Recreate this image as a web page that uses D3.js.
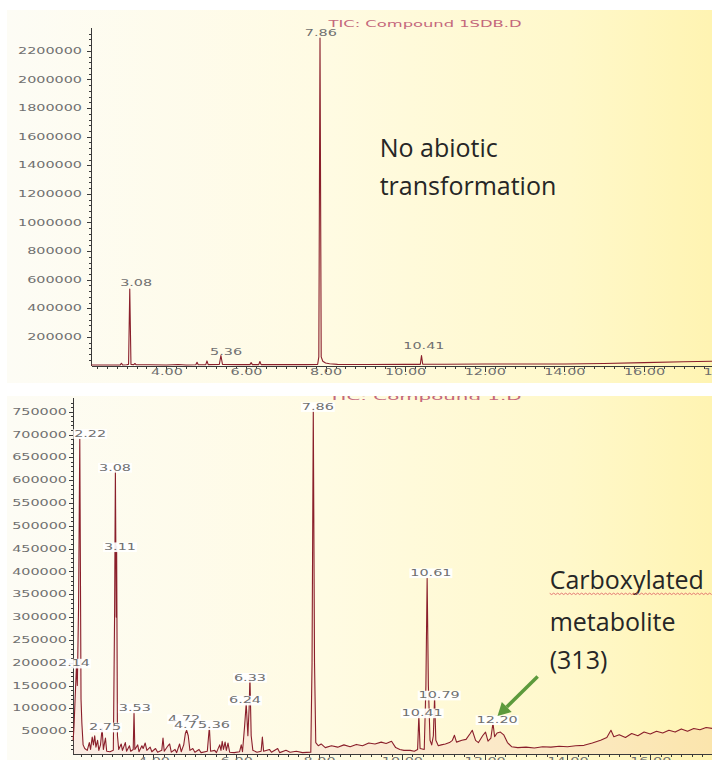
<!DOCTYPE html>
<html lang="en">
<head>
<meta charset="utf-8">
<title>TIC chromatograms</title>
<script src="https://d3js.org/d3.v7.min.js"></script>
<style>
	body { margin: 0; background: #fff; }
	svg { display: block; }
	.axis path, .axis line { stroke: #3a3a3a; shape-rendering: crispEdges; }
	.axis text, .plabel, .title { font-family: "DejaVu Sans", sans-serif; font-size: 8px; fill: #707070; }
	.title { fill: #c4687c; }
	.note { font-family: "Open Sans", sans-serif; font-size: 25px; fill: #262626; }
</style>
</head>
<body>
<script>

// ---------- run 1 : TIC Compound 1SDB.D (minutes, abundance) ----------
var topTrace = [
	[2.11, 3000], [2.4, 4000], [2.7, 4000], [2.84, 4000], [2.87, 16000], [2.90, 4000],
	[3.0, 5000], [3.05, 8000], [3.08, 535000], [3.11, 8000], [3.18, 6000], [3.21, 14000], [3.24, 5000],
	[3.6, 5000], [4.0, 4000], [4.3, 7000], [4.5, 4000], [4.74, 5000], [4.77, 22000], [4.80, 5000],
	[4.99, 6000], [5.02, 32000], [5.05, 6000], [5.33, 7000], [5.37, 70000], [5.41, 7000],
	[5.8, 6000], [6.10, 6000], [6.13, 20000], [6.16, 6000], [6.32, 6000], [6.35, 28000], [6.38, 6000],
	[7.0, 6000], [7.5, 6000], [7.80, 7000], [7.83, 60000], [7.86, 2290000], [7.89, 60000], [7.93, 30000],
	[8.0, 18000], [8.1, 12000], [8.3, 8000], [9.0, 7000], [10.0, 8000], [10.38, 8000], [10.41, 70000],
	[10.44, 9000], [11.0, 9000], [12.0, 10000], [13.0, 11000], [14.0, 11000], [15.0, 14000],
	[16.0, 20000], [17.0, 26000], [18.5, 34000]
];
var topPeakNames = ["3.08", "5.36", "7.86", "10.41"];
var topPeakAt = [3.24, 5.50, 7.88, 10.47];            // label centre, min
var topPeakLevel = [554000, 73000, 2304000, 115000];  // label baseline, abundance
var topYTicks = [200000, 400000, 600000, 800000, 1000000, 1200000, 1400000, 1600000, 1800000, 2000000, 2200000];

// ---------- run 2 : TIC Compound 1.D ----------
var botTrace = [
	[2.06, 30000], [2.08, 60000], [2.12, 150000], [2.14, 195000], [2.16, 150000], [2.19, 320000],
	[2.22, 690000], [2.25, 120000], [2.27, 68000], [2.30, 20000], [2.34, 12000], [2.40, 8000],
	[2.45, 25000], [2.48, 10000], [2.52, 37000], [2.55, 20000], [2.58, 40000], [2.61, 15000],
	[2.65, 30000], [2.68, 8000], [2.72, 20000], [2.76, 57000], [2.79, 10000], [2.84, 35000],
	[2.87, 6000], [2.95, 5000], [3.03, 8000], [3.06, 300000], [3.08, 625000], [3.10, 300000],
	[3.11, 455000], [3.13, 40000], [3.16, 10000], [3.22, 22000], [3.25, 8000], [3.32, 25000],
	[3.35, 6000], [3.42, 18000], [3.45, 6000], [3.51, 10000], [3.53, 92000], [3.55, 10000],
	[3.62, 20000], [3.65, 5000], [3.72, 18000], [3.75, 12000], [3.80, 24000], [3.84, 8000],
	[3.92, 15000], [3.96, 5000], [4.05, 12000], [4.10, 4000], [4.20, 8000], [4.23, 35000],
	[4.26, 6000], [4.35, 18000], [4.39, 22000], [4.43, 4000], [4.52, 10000], [4.56, 3000],
	[4.63, 22000], [4.67, 5000], [4.73, 20000], [4.77, 45000], [4.80, 52000], [4.84, 40000],
	[4.88, 8000], [4.95, 12000], [5.00, 4000], [5.10, 10000], [5.15, 3000], [5.30, 6000],
	[5.35, 59000], [5.38, 6000], [5.48, 8000], [5.52, 3000], [5.60, 20000], [5.63, 8000],
	[5.66, 28000], [5.69, 10000], [5.73, 26000], [5.76, 8000], [5.80, 24000], [5.84, 4000],
	[5.95, 3000], [6.08, 5000], [6.12, 20000], [6.15, 5000], [6.20, 60000], [6.24, 111000],
	[6.28, 40000], [6.31, 100000], [6.33, 168000], [6.36, 40000], [6.40, 8000], [6.50, 4000],
	[6.60, 6000], [6.63, 37000], [6.66, 6000], [6.80, 10000], [6.85, 4000], [7.00, 12000],
	[7.05, 3000], [7.20, 8000], [7.30, 4000], [7.45, 6000], [7.60, 3000], [7.80, 4000],
	[7.83, 200000], [7.86, 757000], [7.89, 200000], [7.92, 25000], [7.98, 18000], [8.05, 22000],
	[8.15, 14000], [8.30, 18000], [8.45, 15000], [8.60, 20000], [8.75, 16000], [8.90, 21000],
	[9.05, 18000], [9.20, 24000], [9.35, 22000], [9.50, 26000], [9.62, 23000], [9.75, 28000],
	[9.85, 14000], [9.95, 10000], [10.05, 8000], [10.20, 8000], [10.30, 6000], [10.38, 10000],
	[10.41, 85000], [10.44, 12000], [10.54, 10000], [10.58, 150000], [10.61, 385000], [10.64, 150000],
	[10.68, 30000], [10.72, 20000], [10.76, 40000], [10.79, 125000], [10.82, 30000], [10.88, 18000],
	[10.95, 20000], [11.05, 22000], [11.15, 25000], [11.22, 30000], [11.27, 41000], [11.32, 26000],
	[11.45, 30000], [11.55, 32000], [11.65, 45000], [11.70, 52000], [11.78, 30000], [11.85, 25000],
	[11.95, 40000], [12.02, 48000], [12.08, 28000], [12.15, 35000], [12.20, 68000], [12.24, 38000],
	[12.30, 46000], [12.38, 48000], [12.46, 42000], [12.55, 25000], [12.65, 16000], [12.80, 14000],
	[13.0, 15000], [13.2, 13000], [13.4, 16000], [13.6, 15000], [13.8, 17000], [14.0, 16000],
	[14.2, 18000], [14.4, 19000], [14.6, 24000], [14.8, 30000], [14.95, 36000], [15.05, 52000],
	[15.12, 38000], [15.25, 42000], [15.4, 36000], [15.55, 45000], [15.7, 40000], [15.85, 48000],
	[16.0, 44000], [16.15, 50000], [16.3, 46000], [16.45, 52000], [16.6, 48000], [16.75, 55000],
	[16.9, 50000], [17.05, 56000], [17.2, 53000], [17.35, 58000], [17.5, 56000], [17.65, 60000],
	[18.0, 58000], [18.5, 60000]
];
var botPeakNames = ["7.86", "2.22", "3.08", "3.11", "2.14", "3.53", "2.75", "4.72", "4.75", "5.36",
	"6.33", "6.24", "10.61", "10.79", "10.41", "12.20"];
var botPeakAt = [7.97, 2.47, 3.07, 3.19, 2.08, 3.55, 2.83, 4.74, 4.88, 5.46,
	6.33, 6.21, 10.70, 10.90, 10.49, 12.30];
var botPeakLevel = [754000, 695000, 621000, 447000, 192000, 94000, 52000, 70000, 57000, 57000,
	161000, 111000, 390000, 122000, 83000, 68000];
var botYTicks = [50000, 100000, 150000, 200000, 250000, 300000, 350000, 400000, 450000, 500000,
	550000, 600000, 650000, 700000, 750000];

var xTicks = [4, 6, 8, 10, 12, 14, 16, 18];

var W = 712, H = 760;
var S = 1.8;  // the instrument font is drawn wide

var svg = d3.select("body").append("svg")
	.attr("width", W)
	.attr("height", H);

// slide background
var defs = svg.append("defs");
var grad = defs.append("linearGradient").attr("id", "slide")
	.attr("x1", 0).attr("x2", 1).attr("y1", 0).attr("y2", 0);
grad.append("stop").attr("offset", "0%").attr("stop-color", "#fdfcf5");
grad.append("stop").attr("offset", "45%").attr("stop-color", "#fffbe3");
grad.append("stop").attr("offset", "80%").attr("stop-color", "#fff8ca");
grad.append("stop").attr("offset", "100%").attr("stop-color", "#fff4b2");

defs.append("clipPath").attr("id", "clip2")
	.append("rect").attr("x", 7).attr("y", 396).attr("width", 705).attr("height", 364);

svg.append("rect").attr("x", 7).attr("y", 10).attr("width", 705).attr("height", 373).attr("fill", "url(#slide)");
svg.append("rect").attr("x", 7).attr("y", 396).attr("width", 705).attr("height", 364).attr("fill", "url(#slide)");

function stretch(sel) {
	sel.each(function() {
		var t = d3.select(this);
		t.attr("x", (+t.attr("x") || 0) / S).attr("transform", "scale(" + S + ",1)");
	});
}

function drawRun(o) {
	var x = d3.scaleLinear()
		.domain([o.tMin, o.tMax])
		.range([o.left, o.left + (o.tMax - o.tMin) * o.pxPerMin]);
	var y = d3.scaleLinear()
		.domain([0, o.vMax])
		.range([o.base, o.top]);

	var g = svg.append("g");

	// title
	g.append("text")
		.attr("class", "title")
		.attr("x", 425).attr("y", o.titleY)
		.attr("text-anchor", "middle")
		.attr("textLength", 193).attr("lengthAdjust", "spacingAndGlyphs")
		.attr("clip-path", o.clip || null)
		.text(o.title);

	// minor ticks
	g.append("g").attr("class", "axis")
		.attr("transform", "translate(" + o.left + ",0)")
		.call(d3.axisLeft(y).tickValues(d3.range(o.minor, o.vMax, o.minor)).tickSize(2).tickSizeOuter(0).tickFormat(""));
	g.append("g").attr("class", "axis")
		.attr("transform", "translate(0," + o.base + ")")
		.call(d3.axisBottom(x).tickValues(d3.range(2.25, o.tMax, 0.25)).tickSize(3).tickSizeOuter(0).tickFormat(""));

	// y axis
	var ya = g.append("g").attr("class", "axis")
		.attr("transform", "translate(" + o.left + ",0)")
		.call(d3.axisLeft(y).tickValues(o.yTicks).tickSize(4).tickPadding(o.yPad).tickSizeOuter(0).tickFormat(d3.format("d")));
	ya.select(".domain").attr("d", "M0," + o.base + "V" + o.top);
	stretch(ya.selectAll("text"));

	// x axis
	var xa = g.append("g").attr("class", "axis")
		.attr("transform", "translate(0," + o.base + ")")
		.call(d3.axisBottom(x).tickValues(xTicks).tickSize(6).tickPadding(-2).tickSizeOuter(0).tickFormat(d3.format(".2f")));
	stretch(xa.selectAll("text"));

	// trace
	var area = d3.area()
		.x(function(d) { return x(d[0]); })
		.y0(y(0))
		.y1(function(d) { return y(d[1]); });
	var line = d3.line()
		.x(function(d) { return x(d[0]); })
		.y(function(d) { return y(d[1]); });

	if (o.fillOpacity > 0) {
		g.append("path")
			.attr("d", area(o.trace))
			.attr("fill", "#e07a82")
			.attr("fill-opacity", o.fillOpacity);
	}
	g.append("path")
		.attr("d", line(o.trace))
		.attr("fill", "none")
		.attr("stroke", "#8a1f2b")
		.attr("stroke-width", 1.1)
		.attr("stroke-linejoin", "round");

	// peak labels
	o.names.forEach(function(name, i) {
		var lg = g.append("g")
			.attr("transform", "translate(" + x(o.at[i]) + "," + y(o.level[i]) + ") scale(" + S + ",1)");
		var t = lg.append("text")
			.attr("class", "plabel")
			.attr("text-anchor", "middle")
			.text(name);
		if (o.boxes) {
			var b = t.node().getBBox();
			lg.insert("rect", "text")
				.attr("x", b.x - 0.5).attr("y", b.y)
				.attr("width", b.width + 1).attr("height", b.height)
				.attr("fill", "#ffffff").attr("fill-opacity", 0.92);
		}
	});

	return {x: x, y: y};
}

var run1 = drawRun({
	title: "TIC: Compound 1SDB.D", titleY: 27,
	trace: topTrace, names: topPeakNames, at: topPeakAt, level: topPeakLevel,
	yTicks: topYTicks, minor: 40000, yPad: 5,
	tMin: 2.106, tMax: 18.5, left: 91, pxPerMin: 39.8,
	vMax: 2360000, base: 365.5, top: 28,
	fillOpacity: 0, boxes: false
});

var run2 = drawRun({
	title: "TIC: Compound 1.D", titleY: 400, clip: "url(#clip2)",
	trace: botTrace, names: botPeakNames, at: botPeakAt, level: botPeakLevel,
	yTicks: botYTicks, minor: 10000, yPad: 2,
	tMin: 2.056, tMax: 18.5, left: 73, pxPerMin: 41.4,
	vMax: 780000, base: 754, top: 398,
	fillOpacity: 0.12, boxes: true
});

// ---------- slide annotations ----------
svg.append("text").attr("class", "note")
	.attr("x", run1.x(9.36)).attr("y", run1.y(1459000))
	.text("No abiotic");
svg.append("text").attr("class", "note")
	.attr("x", run1.x(9.36)).attr("y", run1.y(1193000))
	.text("transformation");

var noteX = run2.x(13.57);
["Carboxylated", "metabolite", "(313)"].forEach(function(s, i) {
	svg.append("text").attr("class", "note")
		.attr("x", noteX).attr("y", run2.y([361000, 270000, 187000][i]))
		.text(s);
});

// spell-check squiggle under "Carboxylated"
var sqY = run2.y(352000), sq = "M" + noteX + "," + sqY;
for (var i = 1; noteX + i * 2 <= W; i++) {
	sq += "L" + (noteX + i * 2) + "," + (sqY + (i % 2 ? 1.2 : -0.2));
}
svg.append("path").attr("d", sq).attr("fill", "none").attr("stroke", "#e06a6a").attr("stroke-width", 0.9);

// green arrow onto the 12.20 peak
var ax0 = run2.x(13.28), ay0 = run2.y(170000),
	ax1 = run2.x(12.31), ay1 = run2.y(83000);
var ang = Math.atan2(ay1 - ay0, ax1 - ax0), hl = 13, hw = 7;
var bx = ax1 - hl * Math.cos(ang), by = ay1 - hl * Math.sin(ang);
svg.append("line")
	.attr("x1", ax0).attr("y1", ay0).attr("x2", bx).attr("y2", by)
	.attr("stroke", "#5d9a3c").attr("stroke-width", 3.5);
svg.append("path")
	.attr("d", "M" + ax1 + "," + ay1 +
		"L" + (bx + hw * Math.sin(ang)) + "," + (by - hw * Math.cos(ang)) +
		"L" + (bx - hw * Math.sin(ang)) + "," + (by + hw * Math.cos(ang)) + "Z")
	.attr("fill", "#5d9a3c");

</script>
</body>
</html>
